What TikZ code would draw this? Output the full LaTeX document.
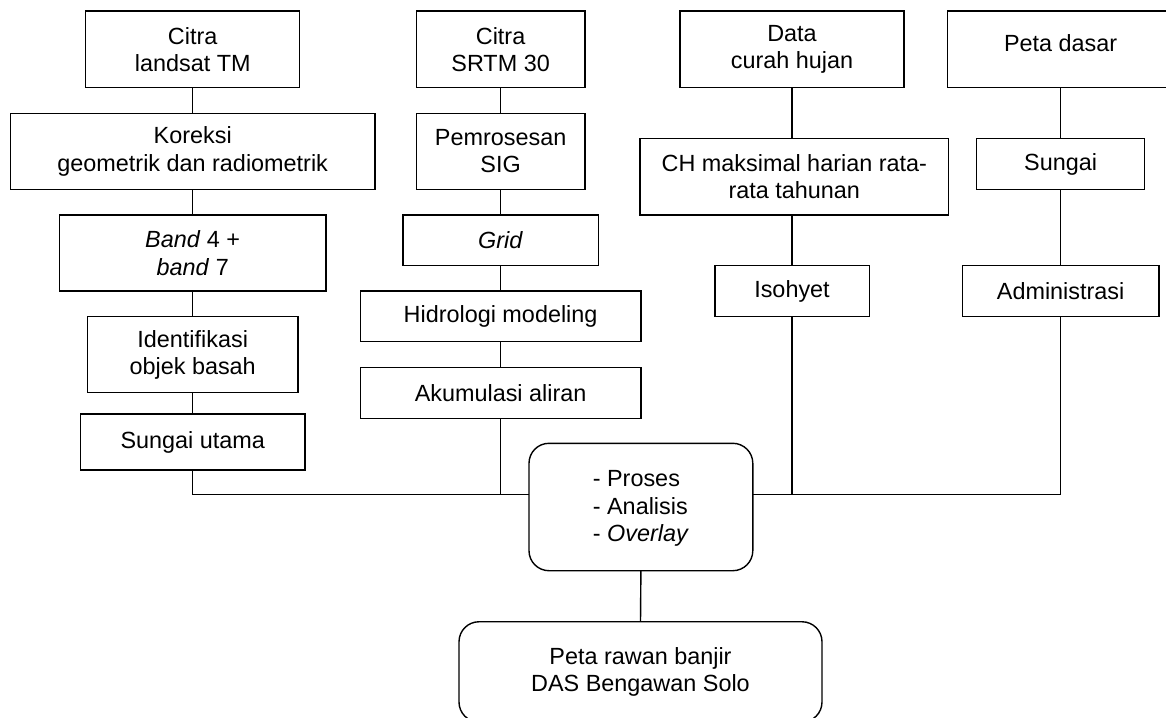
\documentclass[tikz,border=0pt]{standalone}
\usepackage{fontspec}
\setmainfont{Liberation Sans}
\newcommand{\diagfont}{\fontsize{23.4}{27.3}\selectfont}
\begin{document}
\begin{tikzpicture}[x=1pt,y=-1pt,
  box/.style={draw, line width=1.4pt, inner sep=0pt, outer sep=0pt, align=center, font=\diagfont},
  rbox/.style={box, rounded corners=20pt},
  link/.style={line width=1.4pt},
  txt/.style={inner sep=0pt, outer sep=0pt, align=center, font=\diagfont}]
\useasboundingbox (0,0) rectangle (1166,717);
% column 1
\node[box, minimum width=214, minimum height=76.5] (lt) at (192.7,49.4) {Citra\\landsat TM};
\node[box, minimum width=364.7, minimum height=76] (kor) at (192.7,151.3) {Koreksi\\geometrik dan radiometrik};
\node[box, minimum width=266.3, minimum height=76] (band) at (192.7,253) {\textit{Band} 4 +\\\textit{band} 7};
\node[box, minimum width=210.4, minimum height=76] (ident) at (192.7,354.7) {Identifikasi\\objek basah};
\node[box, minimum width=224.6, minimum height=56] (su) at (192.7,442) {Sungai utama};
% column 2
\node[box, minimum width=168.4, minimum height=76.5] (srtm) at (500.6,49.4) {Citra\\SRTM 30};
\node[box, minimum width=168.4, minimum height=76] (pem) at (500.6,151.3) {Pemrosesan\\SIG};
\node[box, minimum width=195.4, minimum height=50.7] (grid) at (500.6,240.3) {\textit{Grid}};
\node[box, minimum width=280.8, minimum height=50.7] (hid) at (500.6,316.3) {Hidrologi modeling};
\node[box, minimum width=280.4, minimum height=50.6] (aku) at (500.6,393) {Akumulasi aliran};
% column 3
\node[box, minimum width=224.2, minimum height=76.5] (data) at (792,49.4) {Data\\curah hujan};
\node[box, minimum width=308.5, minimum height=76.7] (ch) at (794.3,176.7) {CH maksimal harian rata-\\rata tahunan};
\node[box, minimum width=154.4, minimum height=51] (iso) at (792,291.2) {Isohyet};
% column 4
\node[box, minimum width=225.8, minimum height=76.5] (pd) at (1060.6,49.4) {};
\node[txt] (pdt) at ([yshift=6.5pt]pd.center) {Peta dasar};
\node[box, minimum width=168.2, minimum height=51.4] (sg) at (1060.6,164) {Sungai};
\node[box, minimum width=196.4, minimum height=51] (adm) at (1060.6,291.2) {Administrasi};
% centre
\node[rbox, minimum width=223.8, minimum height=127.4] (pr) at (640.9,507) {};
\node[txt, align=left] (prt) at (640.9,508.5) {- Proses\\- Analisis\\- \textit{Overlay}};
\node[rbox, minimum width=363, minimum height=100.3] (out) at (640.5,671.9) {Peta rawan banjir\\DAS Bengawan Solo};
\coordinate (jn) at (0,494.5);
% connectors
\draw[link] (lt.south) -- (kor.north);
\draw[link] (kor.south) -- (band.north);
\draw[link] (band.south) -- (ident.north);
\draw[link] (ident.south) -- (su.north);
\draw[link] (srtm.south) -- (pem.north);
\draw[link] (pem.south) -- (grid.north);
\draw[link] (grid.south) -- (hid.north);
\draw[link] (hid.south) -- (aku.north);
\draw[link] (data.south) -- (data.south |- ch.north);
\draw[link] (data.south |- ch.south) -- (iso.north);
\draw[link] (pd.south) -- (sg.north);
\draw[link] (sg.south) -- (adm.north);
\draw[link] (su.south) |- (pr.west |- jn);
\draw[link] (aku.south) -- (aku.south |- jn);
\draw[link] (adm.south) |- (pr.east |- jn);
\draw[link] (iso.south) -- (iso.south |- jn);
\draw[link] (pr.south) -- (out.north);
\end{tikzpicture}
\end{document}
